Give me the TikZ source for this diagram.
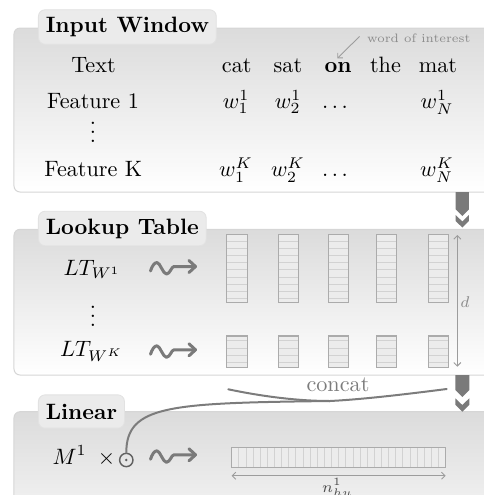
\documentclass[tikz,border=0pt]{standalone}
\usetikzlibrary{arrows.meta}
\definecolor{panelline}{HTML}{D6D6D6}
\definecolor{tabfill}{HTML}{EBEBEB}
\definecolor{tabline}{HTML}{E2E2E2}
\definecolor{flowgray}{HTML}{7A7A7A}
\definecolor{cellline}{HTML}{ABABAB}
\definecolor{cellrule}{HTML}{D2D2D2}
\definecolor{cellfill}{HTML}{ECECEC}
\definecolor{notegray}{HTML}{8C8C8C}
\definecolor{wiregray}{HTML}{7C7C7C}
\definecolor{dimgray}{HTML}{9C9C9C}

\tikzset{
  squig/.pic={
    \draw[sqline] (0.5,2) .. controls (2,-3) and (4.5,-6.5) .. (7,-6.5)
      .. controls (10,-6.5) and (13,5) .. (16.5,5)
      .. controls (20,5) and (21.5,-2.5) .. (24,-2.5) -- (45.5,-2.5);
    \draw[sqline] (39,-8.5) -- (45.5,-2.5) -- (39,3.5);
  }
}

\begin{document}
\begin{tikzpicture}[x=0.45pt,y=-0.45pt,
  panel/.style={draw=panelline,line width=0.45pt,rounded corners=2.7pt,
    top color=black!14,bottom color=white},
  tab/.style={fill=tabfill,draw=tabline,line width=0.4pt,rounded corners=3pt,
    inner xsep=3.3pt,minimum height=15pt,font=\bfseries,anchor=west},
  txt/.style={anchor=base,inner sep=0pt},
  sqline/.style={draw=flowgray,line width=1.35pt,line cap=round,line join=round},
  cellbox/.style={draw=cellline,fill=cellfill,line width=0.5pt},
  cellrules/.style={draw=cellrule,line width=0.4pt},
  dimline/.style={draw=dimgray,line width=0.4pt,
    {Straight Barb[length=1.6pt,width=3.2pt]}-{Straight Barb[length=1.6pt,width=3.2pt]}},
  wire/.style={draw=wiregray,line width=0.9pt,line cap=round},
  flowblock/.style={fill=flowgray},
]
\useasboundingbox (0,0) rectangle (484,495);
\clip (0,0) rectangle (484,495);

% ---------- panels ----------
\path[panel] (14,28) rectangle (530,192);
\path[panel] (14,229.3) rectangle (530,375);
\path[panel] (14,411.7) rectangle (530,570);

\node[tab] (tabin) at (38,27) {Input Window};
\node[tab] (tablt) at (38,228.5) {Lookup Table};
\node[tab] (tablin) at (38,411.5) {Linear};

% ---------- input window ----------
\node[txt] (ttext) at (93.5,72.7) {Text};
\node[txt] (tfeat1) at (93,108.3) {Feature 1};
\node[txt] (tvdots) at (93,142) {$\vdots$};
\node[txt] (tfeatk) at (93.3,176.7) {Feature K};

\node[txt] (wcat) at (236.7,72.7) {cat};
\node[txt] (wsat) at (288,72.7) {sat};
\node[txt] (won) at (338,72.7) {\textbf{on}};
\node[txt] (wthe) at (385.5,72.7) {the};
\node[txt] (wmat) at (438,72.7) {mat};

\node[txt] (fa1) at (236,108.3) {$w_1^1$};
\node[txt] (fa2) at (288,108.3) {$w_2^1$};
\node[txt] (fadots) at (335,108.3) {$\dots$};
\node[txt] (faN) at (437,108.3) {$w_N^1$};

\node[txt] (fk1) at (236,176.7) {$w_1^K$};
\node[txt] (fk2) at (288,176.7) {$w_2^K$};
\node[txt] (fkdots) at (335,176.7) {$\dots$};
\node[txt] (fkN) at (437,176.7) {$w_N^K$};

\node[anchor=base west,inner sep=0pt,font=\fontsize{5.5}{6}\selectfont,text=notegray] (woi) at (366.7,42) {word of interest};
\coordinate (ontip) at (337.3,58.3);
\draw[draw=dimgray,line width=0.4pt,-{Straight Barb[length=1.6pt,width=3.2pt]}]
  ([xshift=-3.2pt,yshift=0.6pt]woi.west) -- (ontip);

% flow marker between input window and lookup table
\fill[flowblock] (455.7,192) -- (469,192) -- (469,209.3) -- (462.3,216) -- (455.7,209.3) -- cycle;
\fill[flowblock] (455.7,215) -- (462.3,221.5) -- (469,215) -- (469,221) -- (462.3,227.5) -- (455.7,221) -- cycle;

% ---------- lookup table ----------
\node[txt] (lt1) at (92,275) {$LT_{W^1}$};
\node[txt] (ltvdots) at (93,326) {$\vdots$};
\node[txt] (ltk) at (91.5,356.7) {$LT_{W^K}$};

\pic at (150,269) {squig};
\pic at (150,352.3) {squig};

\foreach \cx in {237,288.5,338.5,386.5,438.5}{
  \path[cellbox] (\cx-10.25,234.3) rectangle (\cx+10.25,302.3);
  \foreach \k in {0,...,8}
    \path[cellrules] (\cx-9.8,241+7.2*\k) -- (\cx+9.8,241+7.2*\k);
  \path[cellbox] (\cx-10.25,336) rectangle (\cx+10.25,367.7);
  \foreach \k in {0,...,3}
    \path[cellrules] (\cx-9.8,340.7+7.3*\k) -- (\cx+9.8,340.7+7.3*\k);
}

\coordinate (dtop) at (457.3,235);
\coordinate (dbot) at (457.3,366.7);
\draw[dimline] (dtop) -- (dbot);
\node[font=\scriptsize,text=notegray,inner sep=0pt] (dlab) at (465,302) {$d$};

% flow marker between lookup table and linear layer
\fill[flowblock] (455.3,375) -- (469.3,375) -- (469.3,390) -- (462.3,397) -- (455.3,390) -- cycle;
\fill[flowblock] (455.3,398.3) -- (462.3,405) -- (469.3,398.3) -- (469.3,404.7) -- (462.3,411.7) -- (455.3,404.7) -- cycle;

% ---------- linear layer ----------
\node[anchor=base east,inner sep=0pt] (mlab) at (115.5,464) {$M^1\enskip\times$};
\node[circle,draw=black!62,line width=0.65pt,minimum size=6pt,inner sep=0pt] (odot) at (126.3,460) {};
\fill[black!62] (odot.center) circle (0.6pt);

\pic at (150,457.3) {squig};

\path[cellbox] (231.7,447.3) rectangle (445.7,467.3);
\foreach \k in {1,...,29}
  \path[cellrules] (231.7+7.133*\k,447.8) -- (231.7+7.133*\k,466.8);

\coordinate (wl) at (231.7,475.7);
\coordinate (wr) at (445.7,475.7);
\draw[dimline] (wl) -- (wr);
\node[anchor=base,inner sep=0pt,font=\scriptsize,text=black!70] (nlab) at (337.5,492) {$n^1_{hu}$};

% ---------- concatenation wires ----------
\coordinate (cl) at (228.3,389.3);
\coordinate (cr) at (446.7,389);
\coordinate (cm) at (330,401);
\draw[wire] (cl) .. controls (265,397) and (300,401) .. (cm);
\draw[wire] (cr) .. controls (400,395) and (360,399.5) .. (cm);
\draw[wire] (cm) .. controls (170,403) and (126.3,405) .. (odot.north);
\node[txt,text=wiregray] (concat) at (338,391) {concat};

\end{tikzpicture}
\end{document}
